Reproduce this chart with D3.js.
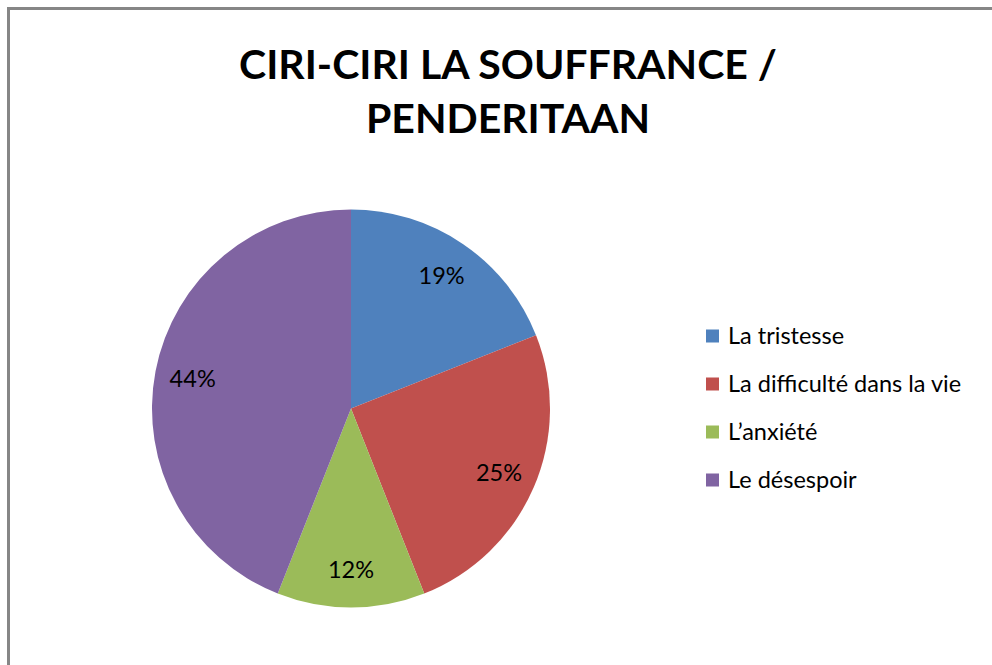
<!DOCTYPE html>
<html>
<head>
<meta charset="utf-8">
<script src="https://cdn.jsdelivr.net/npm/d3@7"></script>
<style>
  body { margin: 0; background: #fff; }
  svg text { font-family: Lato, "Open Sans", sans-serif; fill: #000; }
</style>
</head>
<body>
<div id="chart"></div>
<script>
// données du graphique
var titleLines = ["CIRI-CIRI LA SOUFFRANCE /", "PENDERITAAN"]
var categories = ["La tristesse", "La difficulté dans la vie", "L’anxiété", "Le désespoir"]
var values = [19, 25, 12, 44]
var colors = ["#4F81BD", "#C0504D", "#9BBB59", "#8064A2"]

var width = 992, height = 665

var svg = d3.select("#chart").append("svg")
  .attr("width", width)
  .attr("height", height)

// cadre gris (seulement haut et gauche visibles)
svg.append("rect")
  .attr("x", 8.5).attr("y", 8.5)
  .attr("width", width + 20).attr("height", height + 20)
  .attr("fill", "#fff")
  .attr("stroke", "#868686")
  .attr("stroke-width", 3)

// titre
var titleY = [79, 133]
svg.selectAll(".title")
  .data(titleLines)
  .enter().append("text")
  .attr("class", "title")
  .attr("x", 508)
  .attr("y", function(d, i) { return titleY[i] })
  .attr("text-anchor", "middle")
  .style("font-size", "41px")
  .style("font-weight", "bold")
  .text(function(d) { return d })

// camembert
var cx = 351, cy = 408.5, radius = 199

var pie = d3.pie().sort(null).value(function(d) { return d })
var arc = d3.arc().innerRadius(0).outerRadius(radius)
var labelArc = d3.arc().innerRadius(radius * 0.81).outerRadius(radius * 0.81)

var g = svg.append("g").attr("transform", "translate(" + cx + "," + cy + ")")

var slices = g.selectAll(".slice")
  .data(pie(values))
  .enter().append("g")
  .attr("class", "slice")

slices.append("path")
  .attr("d", arc)
  .attr("fill", function(d, i) { return colors[i] })

slices.append("text")
  .attr("transform", function(d) { return "translate(" + labelArc.centroid(d) + ")" })
  .attr("text-anchor", "middle")
  .attr("dy", "0.36em")
  .style("font-size", "23.5px")
  .text(function(d) { return d.data + "%" })

// légende
var legend = svg.append("g").attr("transform", "translate(706,336)")

var item = legend.selectAll(".item")
  .data(categories)
  .enter().append("g")
  .attr("class", "item")
  .attr("transform", function(d, i) { return "translate(0," + (i * 48) + ")" })

item.append("rect")
  .attr("x", 0).attr("y", -6.5)
  .attr("width", 13).attr("height", 13)
  .attr("fill", function(d, i) { return colors[i] })

item.append("text")
  .attr("x", 22)
  .attr("dy", "0.36em")
  .style("font-size", "23.5px")
  .text(function(d) { return d })
</script>
</body>
</html>
